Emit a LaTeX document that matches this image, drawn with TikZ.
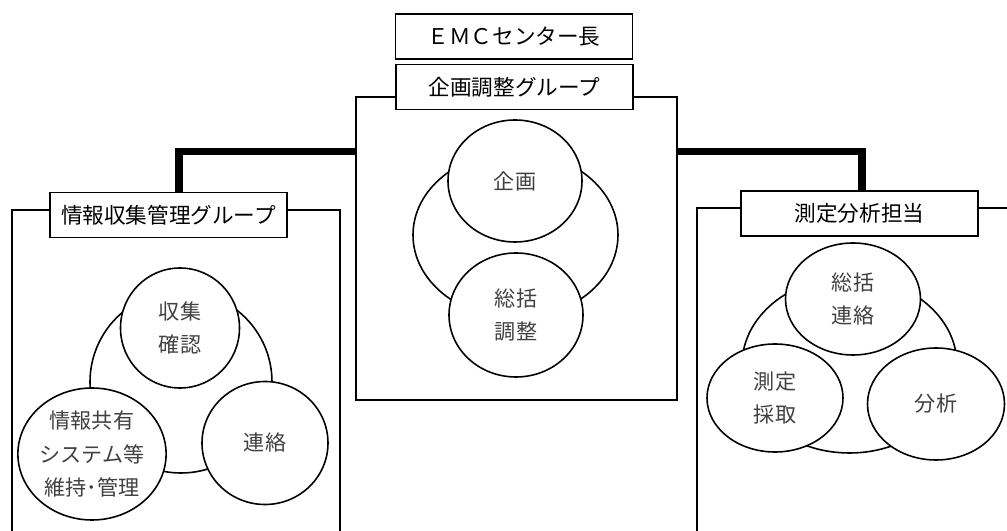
\documentclass[tikz,border=0pt]{standalone}
\usepackage{fontspec}
\setmainfont{Noto Sans CJK JP}
\usetikzlibrary{shapes.geometric}
\definecolor{tgray}{rgb}{0.25,0.25,0.25}

\begin{document}
\begin{tikzpicture}[
  waku/.style={draw, line width=0.6pt, rectangle, inner sep=0pt},
  hako/.style={draw, fill=white, line width=1pt, minimum width=4.74cm, minimum height=0.9cm, inner sep=0pt, font=\fontsize{12.3}{14}\selectfont},
  maru/.style={draw, fill=white, ellipse, line width=0.9pt, inner sep=0pt, align=center, text=tgray, font=\fontsize{12}{18.8}\selectfont},
  futo/.style={line width=4pt}]
\useasboundingbox (0,0) rectangle (20.14,10.62);
\clip (0,0) rectangle (20.14,10.62);
% frames
\node[waku, minimum width=6.42cm, minimum height=6.06cm] (kikakuwaku) at (10.33,5.65) {};
\node[waku, minimum width=6.56cm, minimum height=6.92cm] (johowaku) at (3.52,2.96) {};
\node[waku, minimum width=6.66cm, minimum height=6.96cm] (sokuteiwaku) at (17.27,2.98) {};
% center group
\node[maru, minimum width=4.10cm, minimum height=3.32cm] (kikakubig) at (10.31,5.92) {};
\node[maru, minimum width=2.68cm, minimum height=2.44cm] (kikaku) at (10.30,7.00) {企画};
\node[maru, minimum width=2.68cm, minimum height=2.48cm] (sokatsu) at (10.32,4.32) {総括\\調整};
% left group
\node[maru, minimum width=3.64cm, minimum height=3.64cm] (johobig) at (3.62,2.98) {};
\node[maru, minimum width=2.38cm, minimum height=2.40cm] (shushu) at (3.60,4.06) {収集\\確認};
\node[maru, minimum width=2.82cm, minimum height=2.64cm] (kyoyu) at (1.84,1.54) {情報共有\\システム等\\維持･管理};
\node[maru, minimum width=2.52cm, minimum height=2.46cm] (renraku) at (5.30,1.76) {連絡};
% right group
\node[maru, minimum width=4.30cm, minimum height=3.52cm] (sokuteibig) at (16.99,3.32) {};
\node[maru, minimum width=2.70cm, minimum height=2.24cm] (soren) at (17.06,4.64) {総括\\連絡};
\node[maru, minimum width=2.72cm, minimum height=2.16cm] (saishu) at (15.50,2.66) {測定\\採取};
\node[maru, minimum width=2.74cm, minimum height=2.24cm] (bunseki) at (18.72,2.54) {分析};
% boxes
\node[hako] (center) at (10.28,9.89) {ＥＭＣセンター長};
\node[hako] (kikakugrp) at (10.29,8.88) {企画調整グループ};
\node[hako] (johogrp) at (3.37,6.32) {情報収集管理グループ};
\node[hako] (sokuteigrp) at (17.19,6.35) {測定分析担当};
% thick lines
\draw[futo] ([yshift=-1.1cm]kikakuwaku.north west) -| ([xshift=0.21cm]johogrp.north);
\draw[futo] ([yshift=-1.1cm]kikakuwaku.north east) -| ([xshift=0.05cm]sokuteigrp.north);
\end{tikzpicture}
\end{document}
